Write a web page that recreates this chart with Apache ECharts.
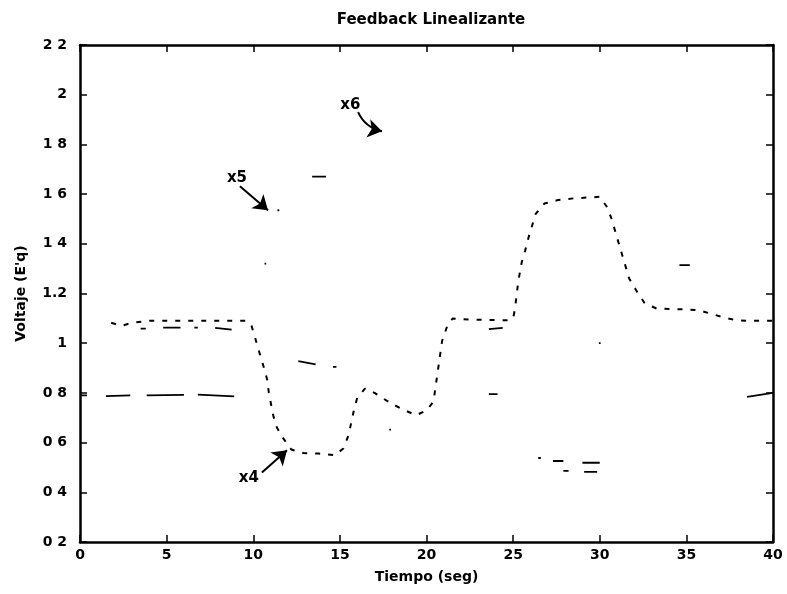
<!DOCTYPE html>
<html>
<head>
<meta charset="utf-8">
<script src="https://cdn.jsdelivr.net/npm/echarts@6/dist/echarts.min.js"></script>
<style>
html,body{margin:0;padding:0;background:#fff;}
#chart{width:787px;height:594px;}
</style>
</head>
<body>
<div id="chart"></div>
<script>
// ---- data (time in s, voltage E'q) ----
const xTicks = [0, 5, 10, 15, 20, 25, 30, 35, 40];
const yTickLabels = ['0 2','0 4','0 6','0 8','1','1.2','1 4','1 6','1 8','2','2 2'];

// x4: dashed curve (most visible one)
const x4T = [1.8,2.4,3.0,4.0,6.0,8.0,9.6,9.9,10.2,10.4,10.6,10.8,10.9,11.15,11.35,11.7,12.2,12.9,13.75,14.7,15.2,15.5,15.8,16.0,16.45,17.0,17.9,18.65,19.4,20.0,20.4,20.5,20.6,20.7,20.8,20.9,21.2,21.5,22.5,24.6,25.0,25.1,25.3,25.5,25.7,25.9,26.3,26.8,27.6,28.5,30.0,30.4,30.7,30.9,31.1,31.3,31.7,32.1,32.6,33.3,34.9,35.7,36.4,37.2,37.9,38.6,40.0];
const x4V = [1.082,1.07,1.082,1.09,1.09,1.09,1.09,1.07,1.0,0.952,0.905,0.855,0.80,0.71,0.663,0.62,0.572,0.558,0.556,0.549,0.576,0.63,0.727,0.78,0.817,0.80,0.76,0.733,0.71,0.73,0.764,0.813,0.862,0.911,0.96,1.009,1.07,1.099,1.095,1.092,1.10,1.135,1.25,1.327,1.374,1.428,1.52,1.562,1.576,1.583,1.589,1.55,1.498,1.448,1.401,1.354,1.26,1.213,1.16,1.139,1.136,1.133,1.119,1.103,1.092,1.09,1.09];

// x5: faint solid fragments (null = gap in the scan)
const x5T = [3.5,3.8,null,4.8,5.8,null,6.6,6.8,null,7.8,8.75,null,10.65,10.75,null,11.4,11.5,null,13.4,14.2,null,23.6,24.4,null,26.45,26.6,null,27.3,27.9,null,29.0,30.0,null,34.6,35.2];
const x5V = [1.059,1.059,null,1.063,1.063,null,1.063,1.063,null,1.062,1.055,null,1.32,1.32,null,1.535,1.535,null,1.67,1.67,null,1.057,1.062,null,0.538,0.538,null,0.526,0.526,null,0.519,0.519,null,1.314,1.314];

// x6: faint solid fragments
const x6T = [0,0.4,null,1.5,2.9,null,3.85,6.0,null,6.8,8.9,null,12.6,13.6,null,14.6,14.8,null,17.85,17.95,null,23.6,24.1,null,27.9,28.2,null,29.1,29.85,null,29.95,30.05,null,38.5,40];
const x6V = [0.79,0.79,null,0.787,0.79,null,0.79,0.792,null,0.793,0.786,null,0.928,0.915,null,0.905,0.905,null,0.652,0.652,null,0.795,0.795,null,0.486,0.486,null,0.482,0.482,null,1.0,1.0,null,0.784,0.80];

// annotation labels and arrows (data coordinates)
const annoNames = ['x4','x5','x6'];
const annoLabelT = [9.75, 9.06, 15.6];
const annoLabelV = [0.456, 1.664, 1.958];
const arrowFromT = [10.5, 9.23, 16.05];
const arrowFromV = [0.48, 1.632, 1.93];
const arrowToT = [11.95, 10.85, 17.43];
const arrowToV = [0.569, 1.535, 1.853];

function toData(T, V) {
  return T.map((t, i) => t === null ? [T[i-1], null] : [t, V[i]]);
}

const FONT = 'DejaVu Sans';
const chart = echarts.init(document.getElementById('chart'), null, {renderer: 'canvas'});

const axisCommon = {
  type: 'value',
  axisLine: {show: true, onZero: false, lineStyle: {color: '#000', width: 2.5}},
  axisTick: {show: true, inside: true, length: 7, lineStyle: {color: '#000', width: 1.5}},
  splitLine: {show: false}
};

const option = {
  animation: false,
  backgroundColor: '#fff',
  title: {
    text: 'Feedback Linealizante',
    left: 426, top: 8, textAlign: 'center',
    textStyle: {fontFamily: FONT, fontWeight: 'bold', fontSize: 15, color: '#000'}
  },
  grid: {left: 80, right: 14, top: 45, bottom: 52, containLabel: false},
  xAxis: [
    Object.assign({}, axisCommon, {
      position: 'bottom', min: 0, max: 40, interval: 5,
      name: 'Tiempo (seg)', nameLocation: 'middle', nameGap: 28,
      nameTextStyle: {fontFamily: FONT, fontWeight: 'bold', fontSize: 14, color: '#000'},
      axisLabel: {fontFamily: FONT, fontWeight: 'bold', fontSize: 14, color: '#000', margin: 6,
        formatter: v => xTicks.indexOf(v) >= 0 ? String(v) : ''}
    }),
    Object.assign({}, axisCommon, {
      position: 'top', min: 0, max: 40, interval: 5, axisLabel: {show: false}
    })
  ],
  yAxis: [
    Object.assign({}, axisCommon, {
      position: 'left', min: 0.2, max: 2.2, interval: 0.2,
      name: "Voltaje (E'q)", nameLocation: 'middle', nameGap: 52,
      nameTextStyle: {fontFamily: FONT, fontWeight: 'bold', fontSize: 14, color: '#000'},
      axisLabel: {fontFamily: FONT, fontWeight: 'bold', fontSize: 14, color: '#000', margin: 13,
        formatter: v => yTickLabels[Math.round((v - 0.2) / 0.2)] || ''}
    }),
    Object.assign({}, axisCommon, {
      position: 'right', min: 0.2, max: 2.2, interval: 0.2, axisLabel: {show: false}
    })
  ],
  series: [
    {
      name: 'x4', type: 'line', data: toData(x4T, x4V), showSymbol: false, symbol: 'none',
      connectNulls: false,
      lineStyle: {color: '#000', width: 2, type: [5, 8]}
    },
    {
      name: 'x5', type: 'line', data: toData(x5T, x5V), showSymbol: false, symbol: 'none',
      connectNulls: false,
      lineStyle: {color: '#000', width: 1.8, type: 'solid'}
    },
    {
      name: 'x6', type: 'line', data: toData(x6T, x6V), showSymbol: false, symbol: 'none',
      connectNulls: false,
      lineStyle: {color: '#000', width: 1.8, type: 'solid'}
    },
    {
      type: 'lines', coordinateSystem: 'cartesian2d', silent: true,
      symbol: ['none', 'arrow'], symbolSize: 14,
      lineStyle: {color: '#000', width: 2, opacity: 1},
      data: annoNames.map((n, i) => ({
        coords: [[arrowFromT[i], arrowFromV[i]], [arrowToT[i], arrowToV[i]]],
        lineStyle: {curveness: n === 'x6' ? -0.25 : 0}
      }))
    },
    {
      type: 'scatter', symbolSize: 0, silent: true,
      itemStyle: {opacity: 1, color: '#000'},
      data: annoNames.map((n, i) => [annoLabelT[i], annoLabelV[i], n]),
      label: {show: true, position: 'inside', formatter: p => p.data[2], opacity: 1,
        fontFamily: FONT, fontWeight: 'bold', fontSize: 15, color: '#000'}
    }
  ]
};
chart.setOption(option);
</script>
</body>
</html>
